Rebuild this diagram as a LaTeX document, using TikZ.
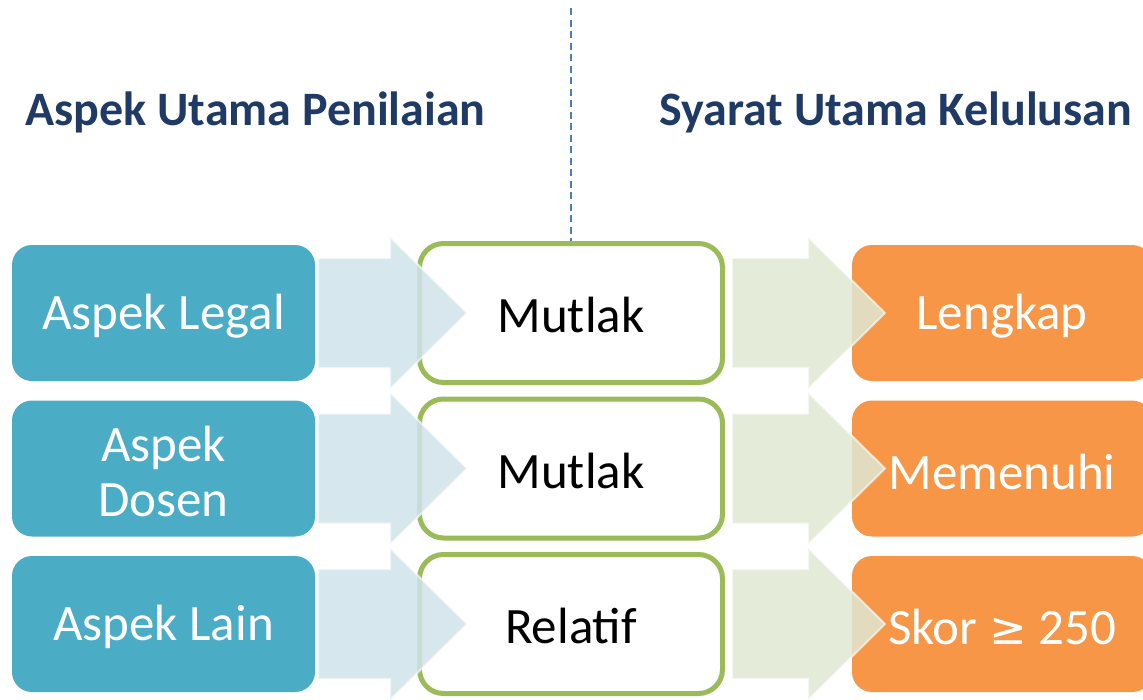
\documentclass[tikz,border=0pt]{standalone}
\usepackage{fontspec}
\setmainfont{Carlito}
\newfontfamily\symfont{DejaVu Sans}
\definecolor{aqua}{HTML}{4BACC6}
\definecolor{orng}{HTML}{F79646}
\definecolor{grn}{HTML}{9BBB59}
\definecolor{headblue}{HTML}{1F3A64}
\definecolor{dashblue}{HTML}{4A7EBB}
\definecolor{arrblue}{HTML}{D0E3EB}
\definecolor{arrgreen}{HTML}{DFE8D2}
\tikzset{
  lbl/.style={font=\fontsize{51}{55}\selectfont, align=center},
  heading/.style={font=\fontsize{48}{54}\selectfont\bfseries, text=headblue, anchor=west},
  bigarrow/.style={fill opacity=0.85, draw opacity=0.6, line width=2pt},
}
\begin{document}
\begin{tikzpicture}[x=1pt,y=-1pt]
\useasboundingbox (0,0) rectangle (1143,699);
\clip (0,0) rectangle (1143,699);
% divider
\coordinate (dtop) at (571,8);
\coordinate (dbot) at (571,242);
\draw[dashblue, line width=2pt, dash pattern=on 7pt off 4.5pt] (dtop) -- (dbot);
% headings
\node[heading] (h1) at (22,112) {Aspek Utama Penilaian};
\node[heading] (h2) at (656,112) {Syarat Utama Kelulusan};
% rows
\foreach \i/\y/\a/\r/\s in {1/245/Aspek Legal/Mutlak/Lengkap, 2/400.5/Aspek\\Dosen/Mutlak/Memenuhi, 3/556/Aspek Lain/Relatif/{Skor {\symfont\fontsize{45}{50}\selectfont ≥} 250}}{
  \fill[aqua, rounded corners=20pt] (12,\y) rectangle (315,\y+136);
  \node[lbl, text=white] (a\i) at (163.5,\y+71) {\a};
  \draw[grn, line width=5pt, fill=white, rounded corners=24pt] (419.5,\y-1.5) rectangle (722.5,\y+137.5);
  \node[lbl] (r\i) at (571,\y+70) {\r};
  \fill[orng, rounded corners=20pt] (852,\y) rectangle (1152,\y+136);
  \node[lbl, text=white] (s\i) at (1002,\y+71) {\s};
  % arrows
  \draw[bigarrow, fill=arrblue, draw=white] (318,\y+13) -- (390,\y+13) -- (390,\y-8) -- (467,\y+68) -- (390,\y+144) -- (390,\y+123) -- (318,\y+123) -- cycle;
  \draw[bigarrow, fill=arrgreen, draw=white] (732,\y+13) -- (808,\y+13) -- (808,\y-8) -- (885,\y+68) -- (808,\y+144) -- (808,\y+123) -- (732,\y+123) -- cycle;
}
\end{tikzpicture}
\end{document}
